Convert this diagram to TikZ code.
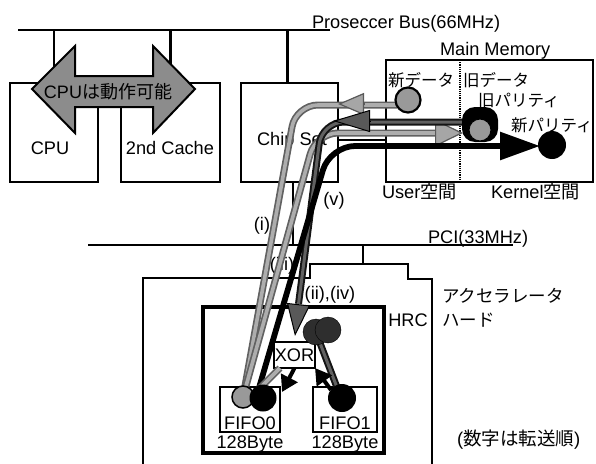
\documentclass[tikz,border=0pt]{standalone}
\usepackage{fontspec}
\setmainfont{Liberation Sans}
\newfontfamily\jp{Noto Sans CJK JP}
\usetikzlibrary{arrows.meta}
\begin{document}
\begin{tikzpicture}[x=1pt,y=-1pt,
  every node/.style={inner sep=0pt,outer sep=0pt},
  lbl/.style={font=\fontsize{18.2}{20}\selectfont},
  jlbl/.style={font=\fontsize{17.5}{20}\selectfont\jp},
  mlbl/.style={font=\fontsize{16.5}{18}\selectfont\jp},
  box/.style={draw,line width=2.6pt,fill=white,rectangle},
  bus/.style={line width=2.6pt},
  lightband/.style={draw=black!32,line width=3.6pt,preaction={draw=black!62,line width=7pt}},
  darkband/.style={draw=black!62,line width=3pt,preaction={draw=black!92,line width=7pt}},
  blackline/.style={draw=black,line width=5.8pt},
  tipL/.style 2 args={draw=black!65,line width=1.2pt,-{Triangle[length=#1,width=#2,fill=black!35]}},
  tipD/.style 2 args={draw=black,line width=1pt,-{Triangle[length=#1,width=#2,fill=black!65]}},
  tipK/.style 2 args={draw=black,line width=4pt,-{Triangle[length=#1,width=#2]}},
  dot/.style={circle,inner sep=0pt}
]
\useasboundingbox (0,0) rectangle (596,463);

% ---------- boxes ----------
\node[box,minimum width=88pt,minimum height=99pt] (cpu) at (54,132.5) {};
\node[box,minimum width=99pt,minimum height=99pt] (cache) at (170.5,132.5) {};
\node[box,minimum width=97pt,minimum height=99pt] (chip) at (289.5,132.5) {};
\node[box,minimum width=207pt,minimum height=122pt] (mem) at (489.5,121) {};

% processor bus
\coordinate (pbL) at (18,30);
\coordinate (pbR) at (330,30);
\draw[bus] (pbL) -- (pbR);
\draw[bus] (cpu.north) -- (cpu.north |- pbL);
\draw[bus] (cache.north) -- (cache.north |- pbL);
\draw[bus] ([xshift=-2pt]chip.north) -- ([xshift=-2pt]chip.north |- pbL);

% memory link and divider
\draw[line width=1.5pt] (chip.east |- 0,140) -- (mem.west |- 0,140);
\draw[densely dotted,line width=1.2pt] (mem.north -| 460,0) -- (mem.south -| 460,0);

% PCI bus
\coordinate (pciL) at (88,245);
\coordinate (pciR) at (513,245);
\draw[bus] (pciL) -- (pciR);
\draw[bus] ([xshift=3.5pt]chip.south) -- ([xshift=3.5pt]chip.south |- pciL);

% accelerator board
\coordinate (bdTop) at (363,264);
\draw[bus] (143,470) -- (143,278) -- (310,278) -- (310,264) -- (408,264) -- (408,279) -- (432,279) -- (432,470);
\draw[bus] (pciL -| bdTop) -- (bdTop);

% HRC and FIFOs
\node[box,line width=4pt,minimum width=181pt,minimum height=146pt] (hrc) at (293.5,380) {};
\node[box,minimum width=60pt,minimum height=45pt] (fifo0) at (250,409.5) {};
\node[box,minimum width=64pt,minimum height=45pt] (fifo1) at (345,409.5) {};

% ---------- texts ----------
\node[lbl,anchor=base west] (tpb) at (312,28) {Proseccer Bus(66MHz)};
\node[lbl,anchor=base west] (tmm) at (440,55) {Main Memory};
\node[lbl] (tcpu) at (50,148) {CPU};
\node[lbl] (tcache) at (170,148) {2nd Cache};
\node[lbl] (tchip) at (292,141) {Chip Set};
\node[mlbl,anchor=base west] (tnd) at (388,86) {新データ};
\node[mlbl,anchor=base west] (tod) at (463,86) {旧データ};
\node[mlbl,anchor=base west] (top) at (478,106) {旧パリティ};
\node[mlbl,anchor=base west] (tnp) at (511,131) {新パリティ};
\node[lbl,anchor=base west] (tus) at (382,198) {User{\jp 空間}};
\node[lbl,anchor=base west] (tks) at (491,198) {Kernel{\jp 空間}};
\node[lbl,anchor=base west] (tpci) at (428,243) {PCI(33MHz)};
\node[lbl] (ti) at (262,226) {(i)};
\node[lbl] (tv) at (334,201) {(v)};
\node[lbl] (tiii) at (282,266) {(iii)};
\node[lbl] (tiiiv) at (330,295) {(ii),(iv)};
\node[lbl] (thrc) at (408,320) {HRC};
\node[jlbl,anchor=base west] (tacc) at (442,302) {アクセラレータ};
\node[jlbl,anchor=base west] (thd) at (442,326) {ハード};
\node[lbl,anchor=base west,font=\fontsize{18.5}{20}\selectfont] (tord) at (457,445) {({\jp 数字は転送順})};
\node[lbl] (tf0) at (250,423) {FIFO0};
\node[lbl] (tf1) at (345,423) {FIFO1};
\node[lbl] (tb0) at (250,444) {128Byte};
\node[lbl] (tb1) at (345,444) {128Byte};

% ---------- double arrow ----------
\draw[line width=2pt,fill=black!45,line join=miter]
  (32,89) -- (75,46) -- (75,76) -- (153,76) -- (153,46) -- (195,89)
  -- (153,133) -- (153,107) -- (75,107) -- (75,133) -- cycle;
\node[font=\fontsize{18}{20}\selectfont] (cpuok) at (108,92) {CPU{\jp は動作可能}};

% ---------- transfer paths ----------
\coordinate (g0) at (243,397);
\coordinate (aS) at (397,105);
\coordinate (aK) at (296,105);
\coordinate (aT1) at (364,104);
\coordinate (aT2) at (338,104);
\coordinate (cK) at (316,133);
\coordinate (cE) at (440,133);
\coordinate (cT1) at (435,133);
\coordinate (cT2) at (463,133);
\coordinate (bS) at (463,122);
\coordinate (bK) at (322,122);
\coordinate (bE) at (298.5,304);
\coordinate (bT) at (295,336);
\coordinate (bM1) at (370,121);
\coordinate (bM2) at (333,121);
\coordinate (kS) at (256,398);
\coordinate (kK) at (330,146);
\coordinate (kT) at (540,146);

% (i) new data -> FIFO0
\draw[lightband,rounded corners=22pt] (aS) -- (aK) -- (g0);
\draw[tipL={26pt}{22pt}] (aT1) -- (aT2);
% (iii) FIFO0 -> memory
\draw[lightband,rounded corners=22pt] (g0) -- (cK) -- (cE);
\draw[tipL={28pt}{27pt}] (cT1) -- (cT2);
% (ii),(iv) memory -> XOR
\draw[darkband,rounded corners=22pt] (bS) -- (bK) -- (bE);
\draw[tipD={37pt}{22pt}] (bM1) -- (bM2);
\draw[tipD={32pt}{23pt}] (bE) -- (bT);
% (v) FIFO0 -> new parity
\draw[blackline,rounded corners=25pt,-{Triangle[length=40pt,width=27pt]}] (kS) -- (kK) -- (kT);

% XOR
\node[box,line width=1.8pt,minimum width=41pt,minimum height=26pt,lbl] (xor) at (294.5,355) {XOR};

% XOR <-> FIFOs
\coordinate (x0a) at (258,390);
\coordinate (x0b) at (280,368);
\coordinate (x1a) at (320,343);
\coordinate (x1b) at (338,390);
\draw[lightband] (x0a) -- (x0b);
\draw[darkband] (x1a) -- (x1b);
\draw[tipK={16pt}{18pt}] (xor.south) -- (282,392);
\draw[tipK={16pt}{18pt}] (331,390) -- (xor.south east);

% ---------- data circles ----------
\node[dot,draw,line width=2.2pt,fill=black!40,minimum size=25pt] (nd) at (408,100) {};
\node[fill=black,rounded corners=13pt,minimum width=36pt,minimum height=35pt] (od) at (480,124.5) {};
\node[dot,draw,line width=1pt,fill=black!40,minimum size=22pt] (op) at (480,130) {};
\node[dot,fill=black,minimum size=28pt] (np) at (552,145) {};
\node[dot,draw,line width=1.5pt,fill=black!40,minimum size=22pt] (gc0) at (g0) {};
\node[dot,fill=black,minimum size=27pt] (bc0) at (263,398) {};
\node[dot,fill=black,minimum size=28pt] (bc1) at (342,398) {};
\node[dot,draw,fill=black!82,minimum size=26pt] (dc1) at (316,332) {};
\node[dot,draw,fill=black!82,minimum size=26pt] (dc2) at (328,330) {};
\end{tikzpicture}
\end{document}
